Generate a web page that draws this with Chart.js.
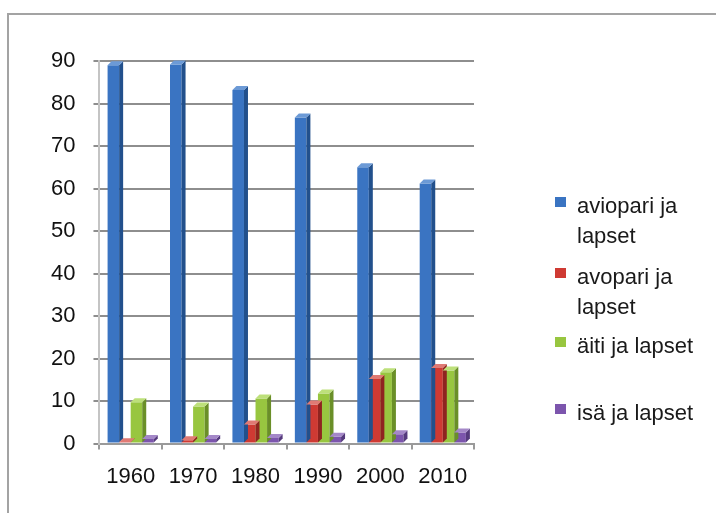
<!DOCTYPE html>
<html>
<head>
<meta charset="utf-8">
<script src="https://cdn.jsdelivr.net/npm/chart.js@4"></script>
<style>
  html, body { margin: 0; padding: 0; background: #fff; }
  #wrap { position: relative; width: 716px; height: 513px; overflow: hidden; }
  #frame { position: absolute; left: 7px; top: 13px; width: 800px; height: 600px; border: 2px solid #a3a3a3; }
  #chart { position: absolute; left: 0; top: 0; }
  #legend { position: absolute; left: 553px; top: 0; font-family: "Liberation Sans", Arial, sans-serif; font-size: 22px; color: #1a1a1a; }
  .item { position: absolute; left: 0; width: 160px; line-height: 30px; }
  .box { position: absolute; left: 2px; top: 6px; width: 11px; height: 10px; }
  .txt { position: absolute; left: 24px; top: 0; white-space: nowrap; }
</style>
</head>
<body>
<div id="wrap">
  <div id="frame"></div>
  <canvas id="chart" width="716" height="513"></canvas>
  <div id="legend"></div>
</div>
<script>
const years = ['1960', '1970', '1980', '1990', '2000', '2010'];
const seriesNames = ['aviopari ja lapset', 'avopari ja lapset', 'äiti ja lapset', 'isä ja lapset'];
const aviopari = [89, 89.2, 83.2, 76.7, 65, 61.2];
const avopari = [0.3, 0.8, 4.5, 9.2, 15.2, 17.8];
const aiti = [9.7, 8.7, 10.6, 11.8, 16.8, 17.2];
const isa = [1.1, 1.1, 1.3, 1.6, 2.2, 2.6];
const yTicks = [0, 10, 20, 30, 40, 50, 60, 70, 80, 90];

const fills = ['#3a74c2', '#cf3a33', '#98c640', '#7c55ad'];
const sides = ['#22508c', '#8f2420', '#6a8f28', '#553a7d'];
const tops = ['#6c9ad6', '#e07a74', '#bde07a', '#a488c8'];

// wrapped legend texts and their rows
const legendLines = [['aviopari ja', 'lapset'], ['avopari ja', 'lapset'], ['äiti ja lapset'], ['isä ja lapset']];
const legendTops = [191, 262, 331, 398];

const depth = 4;
const bar3d = {
    id: 'bar3d',
    afterDatasetsDraw(chart) {
        const c = chart.ctx;
        chart.data.datasets.forEach(function (ds, i) {
            chart.getDatasetMeta(i).data.forEach(function (bar) {
                const half = bar.width / 2;
                const r = bar.x + half, l = bar.x - half;
                c.save();
                c.fillStyle = sides[i];
                c.beginPath();
                c.moveTo(r, bar.y);
                c.lineTo(r + depth, bar.y - depth);
                c.lineTo(r + depth, bar.base - depth);
                c.lineTo(r, bar.base);
                c.closePath();
                c.fill();
                c.fillStyle = tops[i];
                c.beginPath();
                c.moveTo(l, bar.y);
                c.lineTo(l + depth, bar.y - depth);
                c.lineTo(r + depth, bar.y - depth);
                c.lineTo(r, bar.y);
                c.closePath();
                c.fill();
                c.restore();
            });
        });
    }
};

const ctx = document.getElementById('chart').getContext('2d');
const values = [aviopari, avopari, aiti, isa];
const fontFam = '"Liberation Sans", Arial, sans-serif';

new Chart(ctx, {
    type: 'bar',
    data: {
        labels: years,
        datasets: seriesNames.map(function (name, i) {
            return {
                label: name,
                data: values[i],
                backgroundColor: fills[i],
                borderWidth: 0,
                categoryPercentage: 0.74,
                barPercentage: 1
            };
        })
    },
    options: {
        responsive: false,
        animation: false,
        layout: { padding: { left: 33, right: 242, top: 61, bottom: 9 } },
        plugins: { legend: { display: false }, tooltip: { enabled: false } },
        scales: {
            x: {
                grid: { display: true, drawOnChartArea: false, color: '#9a9a9a', lineWidth: 2, tickLength: 6 },
                border: { color: '#9a9a9a', width: 2 },
                ticks: { color: '#111', font: { family: fontFam, size: 22 }, padding: 14 }
            },
            y: {
                min: 0,
                max: 90,
                afterBuildTicks: function (axis) {
                    axis.ticks = yTicks.map(function (v) { return { value: v }; });
                },
                grid: { color: '#8e8e8e', lineWidth: 2, tickLength: 6 },
                border: { color: '#c4c4c4', width: 2 },
                ticks: { color: '#111', font: { family: fontFam, size: 22 }, padding: 18 }
            }
        }
    },
    plugins: [bar3d]
});

const legend = document.getElementById('legend');
seriesNames.forEach(function (name, i) {
    const item = document.createElement('div');
    item.className = 'item';
    item.style.top = legendTops[i] + 'px';
    const box = document.createElement('div');
    box.className = 'box';
    box.style.background = fills[i];
    const txt = document.createElement('div');
    txt.className = 'txt';
    txt.innerHTML = legendLines[i].join('<br>');
    item.appendChild(box);
    item.appendChild(txt);
    legend.appendChild(item);
});
</script>
</body>
</html>
